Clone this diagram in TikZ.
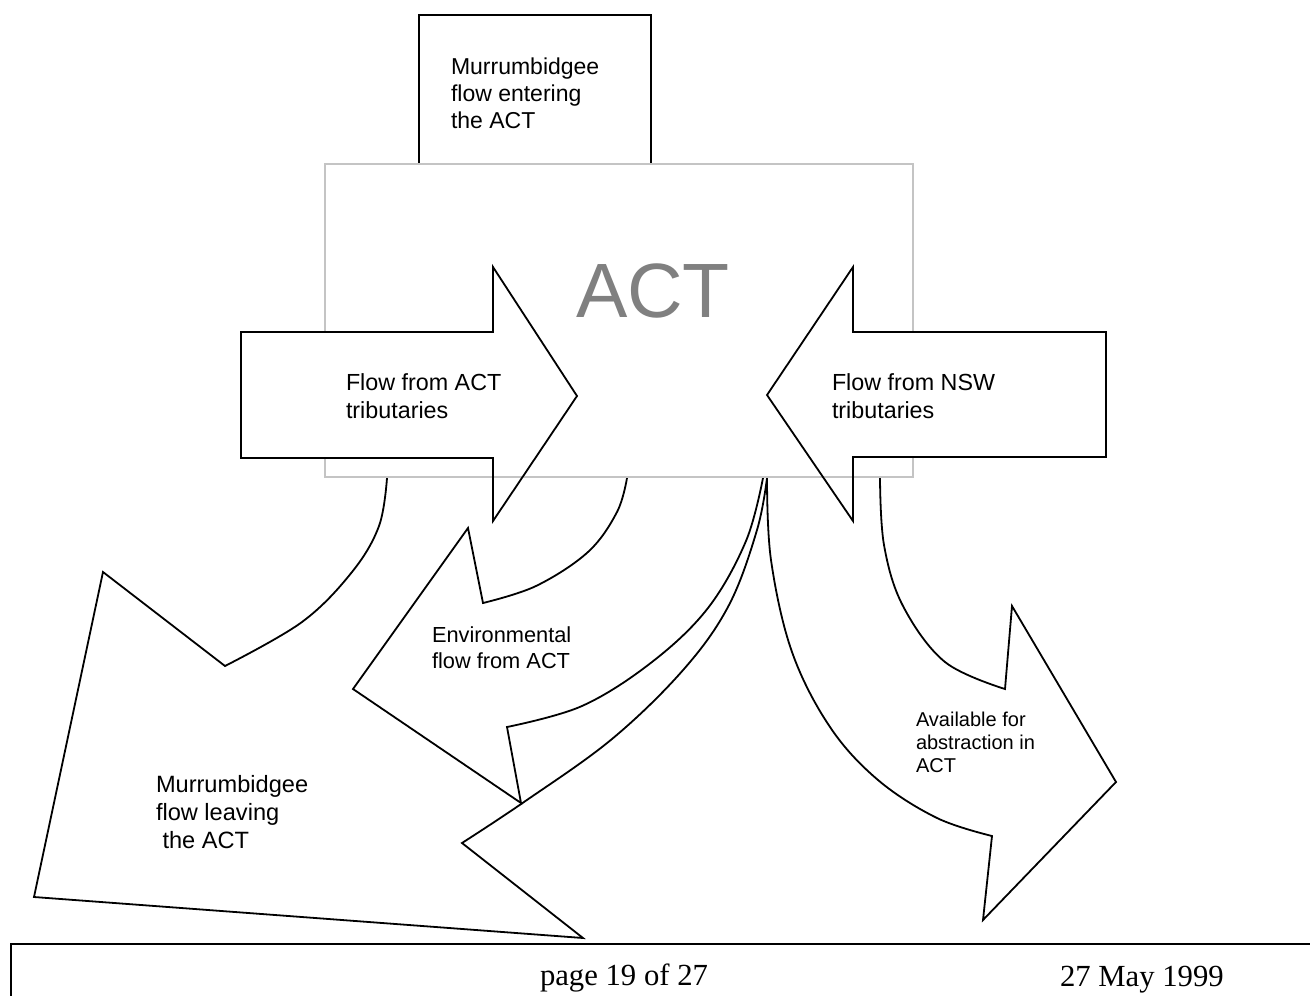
\documentclass[tikz,border=0pt]{standalone}
\usepackage{fontspec}
\setmainfont{Liberation Sans}
\newfontfamily\footserif{Liberation Serif}
\definecolor{rectgray}{HTML}{C4C4C4}
\definecolor{actgray}{HTML}{808080}
\tikzset{
  blockshape/.style={draw=black, fill=white, line width=1.8pt, line join=miter},
  fillonly/.style={fill=white},
  strokeonly/.style={draw=black, line width=1.8pt, line join=miter},
  lbl/.style={anchor=base west, inner sep=0pt, outer sep=0pt},
  sm/.style={smooth, tension=0.6},
}
\newcommand{\lines}[1]{\begin{tabular}[t]{@{}l@{}}#1\end{tabular}}
\begin{document}
\begin{tikzpicture}[x=1pt,y=-1pt]
\useasboundingbox (0,0) rectangle (1310,996);
\fill[white] (0,0) rectangle (1310,996);

% top box: Murrumbidgee flow entering
\draw[blockshape] (419,15) rectangle (651,175);
\node[lbl, font=\fontsize{23}{27}\selectfont] (tin) at (451,74) {\lines{Murrumbidgee\\flow entering\\the ACT}};

% curved arrow 1: Murrumbidgee flow leaving the ACT
\draw[blockshape] (387,466) -- plot[sm] coordinates {(387,478) (379,526) (352,572) (302,622) (225,666)}
  -- (103,572) -- (34,897) -- (583,938) -- (462,843)
  -- plot[sm] coordinates {(462,843) (524,802) (612,739) (684,669) (729,605) (757,530) (767,478)}
  -- (767,466) -- cycle;

% curved arrow 2: Environmental flow from ACT
\draw[blockshape] (627,466) -- plot[sm] coordinates {(627,478) (617,512) (588,552) (536,586) (483,603)}
  -- (468,528) -- (353,689) -- (521,803) -- (507,727)
  -- plot[sm] coordinates {(507,727) (582,706) (652,662) (708,608) (746,541) (763,478)}
  -- (763,466) -- cycle;

% curved arrow 3: Available for abstraction in ACT
\draw[blockshape] (767,466) -- plot[sm] coordinates {(767,478) (771,560) (792,652) (830,727) (878,780) (937,818) (992,836)}
  -- (983,920) -- (1116,782) -- (1012,606) -- (1005,689)
  -- plot[sm] coordinates {(1005,689) (945,662) (903,606) (884,545) (880,478)}
  -- (880,466) -- cycle;

% ACT rectangle
\draw[draw=rectgray, fill=white, line width=2pt] (325,164) rectangle (913,477);
\node[inner sep=0pt, anchor=base, text=actgray, font=\fontsize{77}{80}\selectfont] (act) at (653,317) {ACT};

% straight block arrows (fill first)
\path[fillonly] (241,332) -- (493,332) -- (493,267) -- (577,396) -- (493,521) -- (493,458) -- (241,458) -- cycle;
\path[fillonly] (1106,332) -- (853,332) -- (853,267) -- (767,395) -- (853,521) -- (853,457) -- (1106,457) -- cycle;
% rectangle bottom edge shows through the heads
\coordinate (rbl) at (325,477);
\coordinate (rbr) at (913,477);
\draw[rectgray, line width=2pt] (rbl) -- (rbr);
\draw[strokeonly] (241,332) -- (493,332) -- (493,267) -- (577,396) -- (493,521) -- (493,458) -- (241,458) -- cycle;
\draw[strokeonly] (1106,332) -- (853,332) -- (853,267) -- (767,395) -- (853,521) -- (853,457) -- (1106,457) -- cycle;

% labels
\node[lbl, font=\fontsize{23.3}{28.5}\selectfont] (tact) at (346,390) {\lines{Flow from ACT\\tributaries}};
\node[lbl, font=\fontsize{23.3}{28.5}\selectfont] (tnsw) at (832,390) {\lines{Flow from NSW\\tributaries}};
\node[lbl, font=\fontsize{21.8}{26}\selectfont] (tenv) at (432,642) {\lines{Environmental\\flow from ACT}};
\node[lbl, font=\fontsize{23.6}{28}\selectfont] (tout) at (156,792) {\lines{Murrumbidgee\\flow leaving\\\ the ACT}};
\node[lbl, font=\fontsize{20}{23}\selectfont] (tabs) at (916,726) {\lines{Available for\\abstraction in\\ACT}};

% footer
\coordinate (fl) at (11,944);
\coordinate (fr) at (1312,944);
\coordinate (fb) at (11,998);
\draw[line width=2.8pt] (fb) -- (fl) -- (fr);
\node[lbl, font=\footserif\fontsize{30.7}{34}\selectfont] (page) at (540,985) {page 19 of 27};
\node[lbl, font=\footserif\fontsize{30.7}{34}\selectfont] (date) at (1060,986) {27 May 1999};
\end{tikzpicture}
\end{document}
